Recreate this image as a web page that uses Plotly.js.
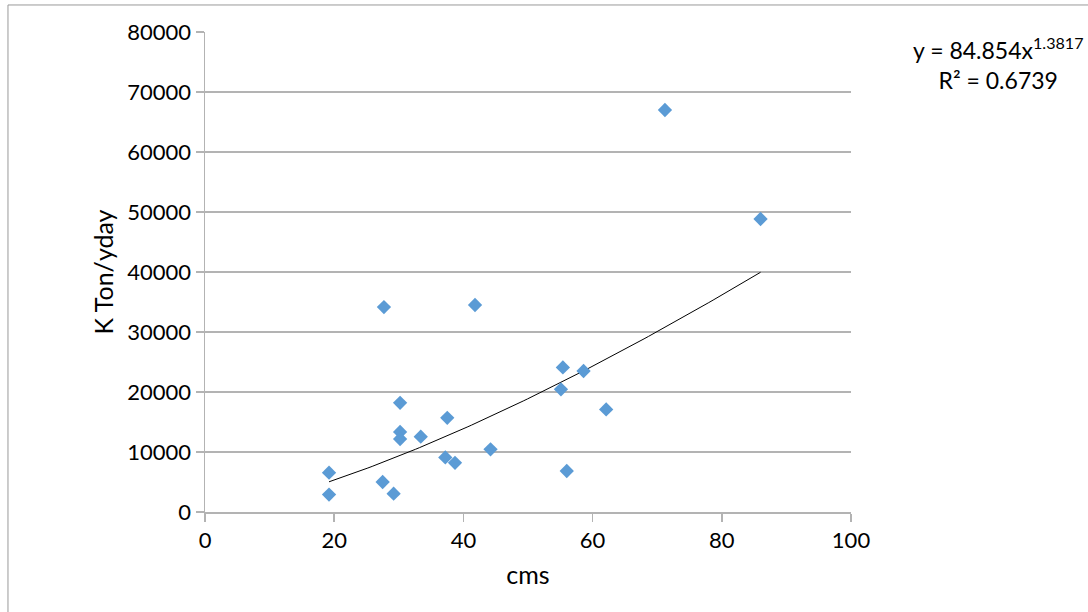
<!DOCTYPE html>
<html>
<head>
<meta charset="utf-8">
<script src="https://cdn.plot.ly/plotly-3.0.1.min.js"></script>
<style>html,body{margin:0;padding:0;background:#fff;}#chart{width:1088px;height:612px;}</style>
</head>
<body>
<div id="chart"></div>
<script>
// Observed data (cms vs K Ton/yday)
const cms = [19.2, 19.2, 27.5, 29.2, 27.7, 30.2, 30.2, 30.2, 33.4, 37.5, 37.2, 38.7, 41.8, 44.2, 55.4, 58.6, 55.1, 62.1, 56.0, 71.2, 86.0];
const kTon = [6550, 2900, 5000, 3050, 34150, 18200, 13350, 12170, 12550, 15700, 9100, 8200, 34500, 10450, 24100, 23500, 20450, 17100, 6830, 67000, 48830];

// Power trendline coefficients (as printed on the chart)
const trendA = 84.854;
const trendB = 1.3817;
const trendR2 = 0.6739;

const xMin = Math.min(...cms), xMax = Math.max(...cms);
const trendX = [], trendY = [];
for (let i = 0; i <= 100; i++) {
  const x = xMin + (xMax - xMin) * i / 100;
  trendX.push(x);
  trendY.push(trendA * Math.pow(x, trendB));
}

const font = "Lato, 'Open Sans', sans-serif";

const traces = [
  {x: trendX, y: trendY, type: 'scatter', mode: 'lines', line: {color: '#000000', width: 1}, hoverinfo: 'skip'},
  {x: cms, y: kTon, type: 'scatter', mode: 'markers', marker: {symbol: 'diamond', size: 11, color: '#5b9bd5'}}
];

const layout = {
  width: 1088, height: 612,
  margin: {l: 205, r: 237, t: 32, b: 100},
  paper_bgcolor: '#ffffff', plot_bgcolor: '#ffffff',
  showlegend: false,
  font: {family: font, size: 22, color: '#000000'},
  xaxis: {
    range: [0, 100], tickvals: [0, 20, 40, 60, 80, 100],
    showgrid: false, zeroline: false,
    showline: true, linecolor: '#b3b3b3', linewidth: 1.5,
    ticks: 'outside', ticklen: 8, tickcolor: '#b3b3b3', tickwidth: 1.5,
    tickfont: {family: font, size: 22, color: '#000'},
    title: {text: 'cms', font: {family: font, size: 25, color: '#000'}, standoff: 14}
  },
  yaxis: {
    range: [0, 80000], tickvals: [0, 10000, 20000, 30000, 40000, 50000, 60000, 70000, 80000],
    showgrid: true, gridcolor: '#b3b3b3', gridwidth: 1.5, zeroline: false,
    showline: true, linecolor: '#b3b3b3', linewidth: 1.5,
    ticks: 'outside', ticklen: 8, tickcolor: '#b3b3b3', tickwidth: 1.5,
    tickformat: 'd',
    tickfont: {family: font, size: 22, color: '#000'},
    title: {text: 'K Ton/yday', font: {family: font, size: 25, color: '#000'}, standoff: 6}
  },
  shapes: [
    {type: 'rect', xref: 'paper', yref: 'paper', x0: -0.305, x1: 1.6, y0: -0.5, y1: 1.0563,
     line: {color: '#999999', width: 1}, fillcolor: 'rgba(0,0,0,0)', layer: 'below'}
  ],
  annotations: [
    {xref: 'paper', yref: 'paper', x: (998 - 205) / 646, y: (512 - 63) / 480,
     xanchor: 'center', yanchor: 'middle', showarrow: false, align: 'center',
     text: 'y = ' + trendA + 'x<sup>' + trendB + '</sup><br>R² = ' + trendR2,
     font: {family: font, size: 23, color: '#000'}}
  ]
};

Plotly.newPlot('chart', traces, layout, {displayModeBar: false, staticPlot: true});
</script>
</body>
</html>
